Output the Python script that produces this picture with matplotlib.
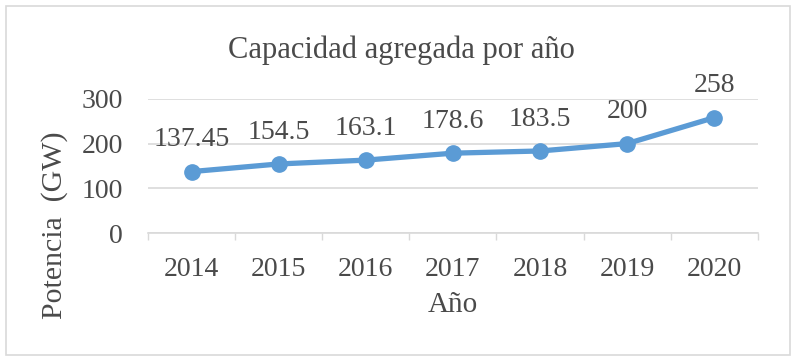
#!/usr/bin/env python3
"""
Line chart of added capacity per year.
"""
import numpy as np
import matplotlib.pyplot as plt
from matplotlib.patches import Rectangle

years = ['2014', '2015', '2016', '2017', '2018', '2019', '2020']
capacity = [137.45, 154.5, 163.1, 178.6, 183.5, 200, 258]
labels = ['137.45', '154.5', '163.1', '178.6', '183.5', '200', '258']

plt.rcParams['font.family'] = ['Liberation Serif', 'DejaVu Serif']
text_color = '#4a4a4a'
grid_color = '#D9D9D9'

fig = plt.figure(figsize=(7.96, 3.62), dpi=100)
ax = fig.add_axes([0.186, 0.356, 0.766, 0.371])

# outer chart border
fig.patches.append(Rectangle((0.007, 0.019), 0.986, 0.965, transform=fig.transFigure,
                             fill=False, edgecolor='#D9D9D9', linewidth=1.2))

x = np.arange(len(years))
ax.plot(x, capacity, color='#5B9BD5', linewidth=3.8, marker='o', markersize=11,
        solid_capstyle='round', zorder=3)

# data labels above points
for xi, yi, lab in zip(x, capacity, labels):
    ax.annotate(lab, (xi, yi), xytext=(0, 23), textcoords='offset points',
                ha='center', va='center', fontsize=20, color=text_color)

ax.set_xlim(-0.5, len(years) - 0.5)
ax.set_ylim(0, 300)
ax.set_yticks([0, 100, 200, 300])
ax.set_xticks(x)
ax.set_xticklabels(years)
ax.set_xticks(np.arange(-0.5, len(years)), minor=True)

ax.tick_params(axis='x', which='major', length=0, pad=17, labelsize=20, colors=text_color)
ax.tick_params(axis='x', which='minor', length=5, width=1, color=grid_color)
ax.tick_params(axis='y', length=0, pad=18, labelsize=20, colors=text_color)

ax.grid(axis='y', color=grid_color, linewidth=1.2)
ax.set_axisbelow(True)
for side in ['top', 'right', 'left']:
    ax.spines[side].set_visible(False)
ax.spines['bottom'].set_color(grid_color)
ax.spines['bottom'].set_linewidth(1.2)

fig.text(0.569, 1 - 305 / 362, 'Año', ha='center', va='center',
         fontsize=21, color=text_color)
fig.text(55 / 796, 1 - 225 / 362, 'Potencia  (GW)', ha='center', va='center',
         rotation=90, fontsize=21.5, color=text_color)
fig.text(401 / 796, 1 - 50 / 362, 'Capacidad agregada por año', ha='center', va='center',
         fontsize=22, color=text_color)

fig.savefig('out.png', dpi=100)
